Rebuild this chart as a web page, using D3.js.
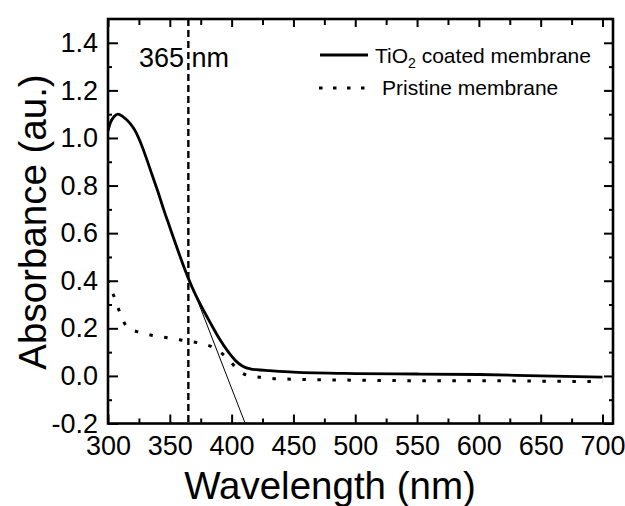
<!DOCTYPE html>
<html>
<head>
<meta charset="utf-8">
<script src="https://cdn.jsdelivr.net/npm/d3@7"></script>
<style>
  html, body { margin: 0; padding: 0; background: #fff; }
  svg { display: block; font-family: "Liberation Sans", Arial, sans-serif; }
</style>
</head>
<body>
<svg id="chart" width="625" height="506"></svg>
<script>
// ---- data ----
const tio2Wavelength = [300, 302, 305, 308, 312, 318, 322, 326, 330, 336, 340, 345, 350, 355, 360, 365, 370, 377, 384, 390, 397, 404, 408, 411, 415, 420, 431, 450, 500, 550, 600, 650, 700];
const tio2Absorbance = [1.03, 1.065, 1.09, 1.10, 1.09, 1.06, 1.03, 0.985, 0.93, 0.84, 0.78, 0.70, 0.625, 0.55, 0.478, 0.41, 0.35, 0.278, 0.212, 0.157, 0.103, 0.06, 0.044, 0.036, 0.03, 0.026, 0.022, 0.016, 0.01, 0.008, 0.006, 0.0, -0.005];

const pristineWavelength = [300, 302, 304, 306, 309, 312, 315, 320, 325, 336, 348, 360, 372, 384.5, 390, 395.5, 400, 403.3, 408, 412, 424, 436, 450, 500, 550, 600, 650, 700];
const pristineAbsorbance = [0.40, 0.37, 0.345, 0.32, 0.275, 0.235, 0.208, 0.192, 0.184, 0.17, 0.16, 0.15, 0.14, 0.121, 0.103, 0.079, 0.055, 0.035, 0.013, 0.004, -0.006, -0.012, -0.014, -0.018, -0.02, -0.02, -0.022, -0.024];

const tangentWavelength = [370, 411];
const tangentAbsorbance = [0.35, -0.2];

const markerWavelength = 365;
const markerLabel = "365 nm";

const xMajorTicks = [300, 350, 400, 450, 500, 550, 600, 650, 700];
const xMinorTicks = [325, 375, 425, 475, 525, 575, 625, 675];
const yMajorTicks = [-0.2, 0.0, 0.2, 0.4, 0.6, 0.8, 1.0, 1.2, 1.4];
const yMinorTicks = [-0.1, 0.1, 0.3, 0.5, 0.7, 0.9, 1.1, 1.3];

const seriesNames = ["TiO2 coated membrane", "Pristine membrane"];
const xTitle = "Wavelength (nm)";
const yTitle = "Absorbance (au.)";

// ---- layout ----
const L = 108, R = 613, T = 19, B = 423.5;
const svg = d3.select("#chart");

const x = d3.scaleLinear().domain([300, 708.5]).range([L, R]);
const y = d3.scaleLinear().domain([-0.2, 1.5]).range([B, T]);

const fmtY = d => d.toFixed(1);

function styleAxis(g) {
  g.select(".domain").remove();
  g.selectAll(".tick line").attr("stroke", "#000").attr("stroke-width", 2);
  g.selectAll(".tick text").attr("fill", "#000").attr("font-size", 27).attr("font-family", "Liberation Sans, Arial, sans-serif");
}

// bottom
svg.append("g").attr("transform", `translate(0,${B})`)
  .call(d3.axisBottom(x).tickValues(xMajorTicks).tickSizeInner(-9).tickSizeOuter(0).tickPadding(12).tickFormat(d3.format("d")))
  .call(styleAxis);
svg.append("g").attr("transform", `translate(0,${B})`)
  .call(d3.axisBottom(x).tickValues(xMinorTicks).tickSizeInner(-5).tickSizeOuter(0).tickFormat(""))
  .call(styleAxis);
// top
svg.append("g").attr("transform", `translate(0,${T})`)
  .call(d3.axisTop(x).tickValues(xMajorTicks).tickSizeInner(-8).tickSizeOuter(0).tickFormat(""))
  .call(styleAxis);
svg.append("g").attr("transform", `translate(0,${T})`)
  .call(d3.axisTop(x).tickValues(xMinorTicks).tickSizeInner(-6).tickSizeOuter(0).tickFormat(""))
  .call(styleAxis);
// left
svg.append("g").attr("transform", `translate(${L},0)`)
  .call(d3.axisLeft(y).tickValues(yMajorTicks).tickSizeInner(-10).tickSizeOuter(0).tickPadding(10).tickFormat(fmtY))
  .call(styleAxis);
svg.append("g").attr("transform", `translate(${L},0)`)
  .call(d3.axisLeft(y).tickValues(yMinorTicks).tickSizeInner(-4).tickSizeOuter(0).tickFormat(""))
  .call(styleAxis);
// right
svg.append("g").attr("transform", `translate(${R},0)`)
  .call(d3.axisRight(y).tickValues(yMajorTicks).tickSizeInner(-9).tickSizeOuter(0).tickFormat(""))
  .call(styleAxis);
svg.append("g").attr("transform", `translate(${R},0)`)
  .call(d3.axisRight(y).tickValues(yMinorTicks).tickSizeInner(-4).tickSizeOuter(0).tickFormat(""))
  .call(styleAxis);

// clip
svg.append("clipPath").attr("id", "clip").append("rect")
  .attr("x", L).attr("y", T).attr("width", R - L).attr("height", B - T);

const plot = svg.append("g").attr("clip-path", "url(#clip)");

const line = d3.line().x(d => x(d[0])).y(d => y(d[1])).curve(d3.curveMonotoneX);

// marker vertical dashed line
plot.append("line")
  .attr("x1", x(markerWavelength)).attr("x2", x(markerWavelength))
  .attr("y1", T).attr("y2", B)
  .attr("stroke", "#000").attr("stroke-width", 2.4).attr("stroke-dasharray", "7,4");

// tangent
plot.append("path")
  .datum(d3.zip(tangentWavelength, tangentAbsorbance))
  .attr("d", d3.line().x(d => x(d[0])).y(d => y(d[1])))
  .attr("fill", "none").attr("stroke", "#000").attr("stroke-width", 1);

// pristine dotted
plot.append("path")
  .datum(d3.zip(pristineWavelength, pristineAbsorbance))
  .attr("d", line)
  .attr("fill", "none").attr("stroke", "#000").attr("stroke-width", 3)
  .attr("stroke-dasharray", "3.5,11.5").attr("stroke-dashoffset", 1);

// TiO2 solid
plot.append("path")
  .datum(d3.zip(tio2Wavelength, tio2Absorbance))
  .attr("d", line)
  .attr("fill", "none").attr("stroke", "#000").attr("stroke-width", 2.8).attr("stroke-linejoin", "round");

// frame
svg.append("rect").attr("x", L).attr("y", T).attr("width", R - L).attr("height", B - T)
  .attr("fill", "none").attr("stroke", "#000").attr("stroke-width", 2.6);

// marker label
svg.append("text").attr("x", 139).attr("y", 67)
  .attr("font-size", 27).attr("xml:space", "preserve")
  .text(markerLabel);

// legend
const lg = svg.append("g");
lg.append("line").attr("x1", 320).attr("x2", 368).attr("y1", 55).attr("y2", 55)
  .attr("stroke", "#000").attr("stroke-width", 2.8);
const t1 = lg.append("text").attr("x", 375).attr("y", 63).attr("font-size", 21);
t1.append("tspan").text("TiO");
t1.append("tspan").attr("font-size", 14).attr("dy", 5).text("2");
t1.append("tspan").attr("dy", -5).text(" coated membrane");
lg.append("line").attr("x1", 319).attr("x2", 372).attr("y1", 88).attr("y2", 88)
  .attr("stroke", "#000").attr("stroke-width", 3).attr("stroke-dasharray", "3.5,10.5");
lg.append("text").attr("x", 382).attr("y", 95).attr("font-size", 21).text(seriesNames[1]);

// axis titles
svg.append("text").attr("x", 330).attr("y", 499).attr("text-anchor", "middle")
  .attr("font-size", 38.5).text(xTitle);
svg.append("text").attr("transform", "translate(46,222) rotate(-90)").attr("text-anchor", "middle")
  .attr("font-size", 38.5).text(yTitle);
</script>
</body>
</html>
